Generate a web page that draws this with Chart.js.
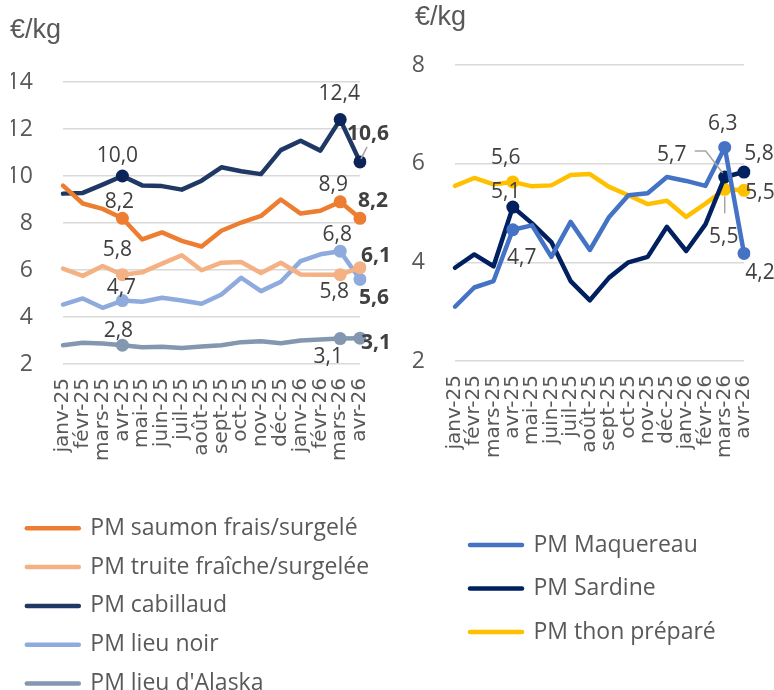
<!DOCTYPE html>
<html lang="fr">
<head>
<meta charset="utf-8">
<script src="https://cdn.jsdelivr.net/npm/chart.js@4.4.1/dist/chart.umd.min.js"></script>
<style>
  html, body { margin: 0; padding: 0; background: #fff; overflow: hidden; }
  canvas { position: absolute; top: 0; }
  #left { left: 0; }
  #right { left: 390px; }
</style>
</head>
<body>
<canvas id="left" width="390" height="705"></canvas>
<canvas id="right" width="384" height="690"></canvas>
<script>
// months shown on both x axes
const months = ['janv-25', 'févr-25', 'mars-25', 'avr-25', 'mai-25', 'juin-25', 'juil-25', 'août-25',
  'sept-25', 'oct-25', 'nov-25', 'déc-25', 'janv-26', 'févr-26', 'mars-26', 'avr-26'];

// left panel, €/kg
const saumon    = [9.59, 8.83, 8.6, 8.2, 7.3, 7.6, 7.24, 7.0, 7.67, 8.02, 8.3, 9.0, 8.4, 8.52, 8.9, 8.2];
const truite    = [6.06, 5.75, 6.17, 5.8, 5.9, 6.27, 6.63, 5.99, 6.31, 6.34, 5.87, 6.31, 5.81, 5.8, 5.8, 6.1];
const cabillaud = [9.25, 9.28, 9.63, 10.0, 9.6, 9.57, 9.42, 9.8, 10.37, 10.2, 10.08, 11.1, 11.5, 11.08, 12.4, 10.6];
const lieuNoir  = [4.53, 4.79, 4.39, 4.7, 4.65, 4.82, 4.7, 4.56, 4.96, 5.67, 5.1, 5.5, 6.38, 6.67, 6.8, 5.6];
const alaska    = [2.8, 2.9, 2.87, 2.8, 2.71, 2.73, 2.68, 2.74, 2.8, 2.93, 2.97, 2.88, 3.0, 3.04, 3.08, 3.1];

// right panel, €/kg
const maquereau = [3.1, 3.49, 3.62, 4.66, 4.75, 4.11, 4.82, 4.25, 4.92, 5.36, 5.4, 5.73, 5.65, 5.55, 6.33, 4.18];
const sardine   = [3.89, 4.16, 3.92, 5.12, 4.79, 4.41, 3.62, 3.23, 3.69, 4.0, 4.11, 4.72, 4.23, 4.77, 5.73, 5.83];
const thon      = [5.55, 5.71, 5.58, 5.63, 5.54, 5.56, 5.77, 5.79, 5.53, 5.36, 5.18, 5.25, 4.92, 5.19, 5.48, 5.46];

const leftTicks = [2, 4, 6, 8, 10, 12, 14];
const rightTicks = [2, 4, 6, 8];

const FONT = '"Open Sans", "Noto Sans", sans-serif';
const GREY = '#595959';

// where the value labels sit around their point (offsets in px)
const marksSaumon    = [{ i: 3, dx: -3, dy: -16 }, { i: 14, dx: -7, dy: -17 }, { i: 15, dx: 13, dy: -17, bold: true }];
const marksTruite    = [{ i: 3, dx: -5, dy: -25 }, { i: 14, dx: -6, dy: 17 }, { i: 15, dx: 16, dy: -12, bold: true }];
const marksCabillaud = [{ i: 3, dx: -5, dy: -20 }, { i: 14, dx: -1, dy: -26 },
  { i: 15, dx: 8, dy: -28, bold: true, leader: [[7, -15], [1, -3]] }];
const marksLieuNoir  = [{ i: 3, dx: -1, dy: -13 }, { i: 14, dx: -3, dy: -16 }, { i: 15, dx: 14, dy: 19, bold: true }];
const marksAlaska    = [{ i: 3, dx: -4, dy: -14 }, { i: 14, dx: -12, dy: 18 }, { i: 15, dx: 16, dy: 5, bold: true }];
const marksMaquereau = [{ i: 3, dx: 9, dy: 28 }, { i: 14, dx: -2, dy: -23 }, { i: 15, dx: 16, dy: 20 }];
const marksSardine   = [{ i: 3, dx: -7, dy: -15 },
  { i: 14, dx: -53, dy: -22, leader: [[-30, -26], [-19, -26], [-2, -4]] }, { i: 15, dx: 15, dy: -18 }];
const marksThon      = [{ i: 3, dx: -7, dy: -24 },
  { i: 14, dx: -1, dy: 48, leader: [[0, 24], [0, 7]] }, { i: 15, dx: 16, dy: 3 }];

const fmt = v => v.toFixed(1).replace('.', ',');

const pointLabels = {
  id: 'pointLabels',
  afterDatasetsDraw(chart) {
    const ctx = chart.ctx;
    ctx.save();
    chart.data.datasets.forEach((ds, di) => {
      const meta = chart.getDatasetMeta(di);
      (ds.marks || []).forEach(m => {
        const pt = meta.data[m.i];
        if (m.leader) {
          ctx.strokeStyle = '#a6a6a6';
          ctx.lineWidth = 1.5;
          ctx.beginPath();
          m.leader.forEach(([lx, ly], k) => {
            if (k === 0) ctx.moveTo(pt.x + lx, pt.y + ly);
            else ctx.lineTo(pt.x + lx, pt.y + ly);
          });
          ctx.stroke();
        }
        ctx.font = (m.bold ? 'bold ' : '') + '21px ' + FONT;
        ctx.fillStyle = '#404040';
        ctx.textAlign = 'center';
        ctx.textBaseline = 'middle';
        ctx.fillText(fmt(ds.data[m.i]), pt.x + m.dx, pt.y + m.dy);
      });
    });
    ctx.restore();
  }
};

// "€/kg" above the value axis, and a sideways nudge for the legend block
const unitLabel = {
  id: 'unitLabel',
  afterLayout(chart, args, opts) {
    chart.legend.left += opts.legendShift;
    chart.legend.right += opts.legendShift;
  },
  afterDraw(chart, args, opts) {
    const ctx = chart.ctx;
    ctx.save();
    ctx.font = '27px "Liberation Sans Narrow", "Liberation Sans", sans-serif';
    ctx.fillStyle = GREY;
    ctx.textAlign = 'left';
    ctx.textBaseline = 'middle';
    ctx.fillText('€/kg', opts.x, opts.y);
    ctx.restore();
  }
};

function series(label, data, color, marks, pointColor) {
  const marked = marks.map(m => m.i);
  return {
    label: label,
    data: data,
    borderColor: color,
    backgroundColor: color,
    pointBackgroundColor: pointColor || color,
    pointBorderWidth: 0,
    pointRadius: ctx => marked.includes(ctx.dataIndex) ? 6.5 : 0,
    borderWidth: 4.5,
    borderCapStyle: 'round',
    borderJoinStyle: 'round',
    tension: 0,
    marks: marks
  };
}

function legendItems(chart) {
  return Chart.defaults.plugins.legend.labels.generateLabels(chart).map(item => {
    const ds = chart.data.datasets[item.datasetIndex];
    item.lineWidth = ds.borderWidth;
    item.strokeStyle = ds.borderColor;
    item.fillStyle = ds.borderColor;
    item.lineCap = 'round';
    return item;
  });
}

function makeChart(id, datasets, o) {
  return new Chart(document.getElementById(id), {
    type: 'line',
    data: { labels: months, datasets: datasets },
    options: {
      responsive: false,
      animation: false,
      layout: { padding: o.padding },
      scales: {
        x: {
          grid: { display: false },
          border: { display: false },
          ticks: {
            autoSkip: false, minRotation: 90, maxRotation: 90, padding: 6,
            color: GREY, font: { family: '"DejaVu Sans", sans-serif', size: 20 }
          },
          afterFit: s => { s.height = o.xHeight; }
        },
        y: {
          min: o.ticks[0],
          max: o.ticks[o.ticks.length - 1],
          afterBuildTicks: s => { s.ticks = o.ticks.map(v => ({ value: v })); },
          grid: { color: '#d9d9d9', lineWidth: 1.5, drawTicks: false },
          border: { display: false },
          ticks: { padding: 30, color: GREY, font: { family: FONT, size: 23 } },
          afterFit: s => { s.width = o.yWidth; }
        }
      },
      plugins: {
        legend: {
          position: 'bottom',
          align: 'start',
          labels: {
            usePointStyle: true,
            pointStyle: 'line',
            pointStyleWidth: 52,
            padding: o.legendPad,
            color: GREY,
            font: { family: FONT, size: 23 },
            generateLabels: legendItems
          }
        },
        tooltip: { enabled: false },
        unitLabel: o.unit
      }
    },
    plugins: [pointLabels, unitLabel]
  });
}

makeChart('left', [
  series('PM saumon frais/surgelé', saumon, '#ED7D31', marksSaumon),
  series('PM truite fraîche/surgelée', truite, '#F4B183', marksTruite),
  series('PM cabillaud', cabillaud, '#1F3864', marksCabillaud, '#0c2459'),
  series('PM lieu noir', lieuNoir, '#8FAADC', marksLieuNoir),
  series("PM lieu d'Alaska", alaska, '#8497B0', marksAlaska)
], {
  padding: { left: 11, right: 19, top: 82, bottom: 0 },
  xHeight: 137, yWidth: 52, legendPad: 15.8,
  ticks: leftTicks,
  unit: { x: 10, y: 31, legendShift: 0 }
});

makeChart('right', [
  series('PM Maquereau', maquereau, '#4472C4', marksMaquereau),
  series('PM Sardine', sardine, '#002060', marksSardine),
  series('PM thon préparé', thon, '#FFC000', marksThon)
], {
  padding: { left: 20, right: 26, top: 65, bottom: 36.5 },
  xHeight: 152, yWidth: 45, legendPad: 20.5,
  ticks: rightTicks,
  unit: { x: 25, y: 18, legendShift: 39.5 }
});
</script>
</body>
</html>
